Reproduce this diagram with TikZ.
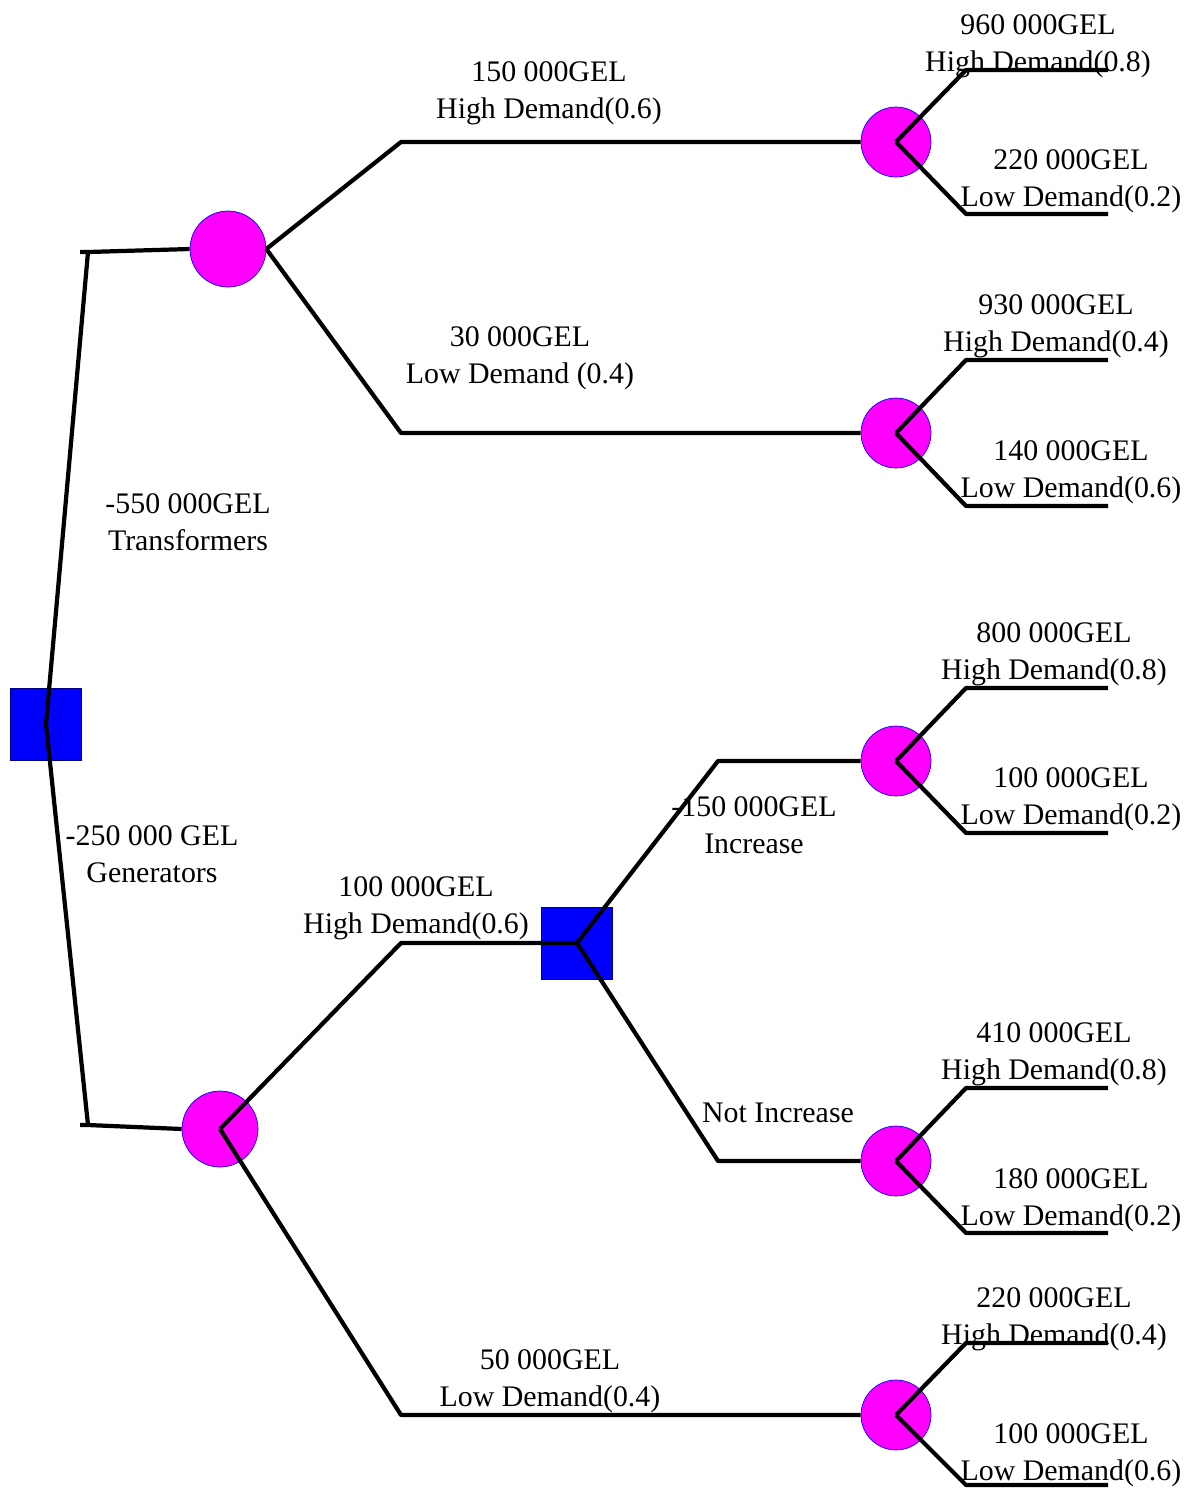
\documentclass[tikz,border=0pt]{standalone}
\usepackage{fontspec}
\setmainfont{Liberation Serif}
\definecolor{mag}{RGB}{255,0,255}
\definecolor{pblue}{RGB}{0,0,255}
\definecolor{dblue}{RGB}{0,0,130}
\begin{document}
\begin{tikzpicture}[x=0.02cm,y=-0.02cm,
  chance/.style={circle,fill=mag,draw=pblue,line width=0.4pt,minimum size=#1*0.04cm,inner sep=0pt},
  decision/.style={rectangle,fill=pblue,draw=dblue,line width=0.4pt,minimum width=1.42cm,minimum height=1.44cm,inner sep=0pt},
  lbl/.style={align=center,font=\fontsize{17}{21}\selectfont,inner sep=0pt},
  edge/.style={line width=2.4pt,line join=round}]
\useasboundingbox (0,0) rectangle (1191,1489);
% shapes
\node[decision] (root) at (46,724) {};
\node[chance=38] (c1) at (228,249) {};
\node[chance=38] (c2) at (220,1129) {};
\node[decision] (d2) at (577,943) {};
\node[chance=35] (t1) at (896,142) {};
\node[chance=35] (t2) at (896,433) {};
\node[chance=35] (t3) at (896,761) {};
\node[chance=35] (t4) at (896,1161) {};
\node[chance=35] (t5) at (896,1415) {};
% labels
\node[lbl] (l1) at (549,93) {150 000GEL\\High Demand(0.6)};
\node[lbl] (l2) at (520,358) {30 000GEL\\Low Demand (0.4)};
\node[lbl] (l3) at (188,522) {-550 000GEL\\Transformers};
\node[lbl] (l4) at (152,854) {-250 000 GEL\\Generators};
\node[lbl] (l5) at (416,908) {100 000GEL\\High Demand(0.6)};
\node[lbl] (l6) at (754,825) {-150 000GEL\\Increase};
\node[lbl] (l7) at (778,1113) {Not Increase};
\node[lbl] (l8) at (550,1381) {50 000GEL\\Low Demand(0.4)};
\node[lbl] (a1) at (1038,46) {960 000GEL\\High Demand(0.8)};
\node[lbl] (a2) at (1071,181) {220 000GEL\\Low Demand(0.2)};
\node[lbl] (a3) at (1056,326) {930 000GEL\\High Demand(0.4)};
\node[lbl] (a4) at (1071,472) {140 000GEL\\Low Demand(0.6)};
\node[lbl] (a5) at (1054,654) {800 000GEL\\High Demand(0.8)};
\node[lbl] (a6) at (1071,799) {100 000GEL\\Low Demand(0.2)};
\node[lbl] (a7) at (1054,1054) {410 000GEL\\High Demand(0.8)};
\node[lbl] (a8) at (1071,1200) {180 000GEL\\Low Demand(0.2)};
\node[lbl] (a9) at (1054,1319) {220 000GEL\\High Demand(0.4)};
\node[lbl] (a10) at (1071,1455) {100 000GEL\\Low Demand(0.6)};
% bend points
\coordinate (r1) at (88,252); \coordinate (r1e) at (80,252);
\coordinate (r2) at (88,1125); \coordinate (r2e) at (80,1125);
\coordinate (p1) at (401,142); \coordinate (p2) at (401,433);
\coordinate (p3) at (401,943); \coordinate (p4) at (401,1415);
\coordinate (q1) at (718,761); \coordinate (q2) at (718,1161);
% connectors
\draw[edge] (r1e) -- (r1) -- (c1.west);
\draw[edge] (r1) -- (root.center) -- (r2);
\draw[edge] (r2e) -- (r2) -- (c2.west);
\draw[edge] (c1.east) -- (p1) -- (t1.west);
\draw[edge] (c1.east) -- (p2) -- (t2.west);
\draw[edge] (c2.center) -- (p3) -- (d2.center);
\draw[edge] (c2.center) -- (p4) -- (t5.west);
\draw[edge] (d2.center) -- (q1) -- (t3.west);
\draw[edge] (d2.center) -- (q2) -- (t4.west);
\foreach \t/\ya/\yb in {t1/70/214, t2/360/506, t3/688/833, t4/1088/1233, t5/1343/1485}{
  \coordinate (\t u) at (966,\ya); \coordinate (\t ue) at (1108,\ya);
  \coordinate (\t d) at (966,\yb); \coordinate (\t de) at (1108,\yb);
  \draw[edge] (\t.center) -- (\t u) -- (\t ue);
  \draw[edge] (\t.center) -- (\t d) -- (\t de);
}
\end{tikzpicture}
\end{document}
